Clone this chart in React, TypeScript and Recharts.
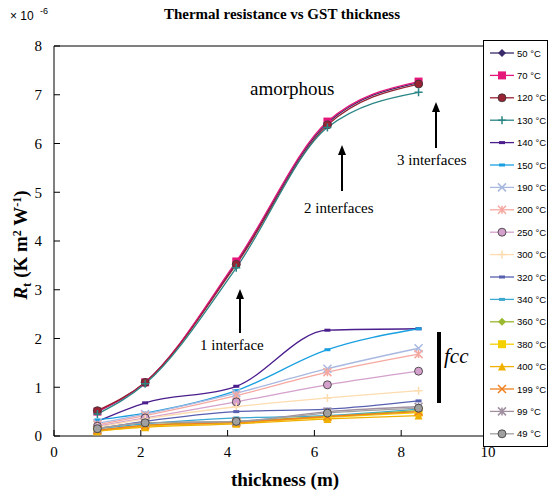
import { LineChart, Line, XAxis, YAxis } from "recharts";

const thickness = [1, 2.1, 4.2, 6.3, 8.4];
const s50 = [0.5, 1.1, 3.55, 6.42, 7.25];
const s70 = [0.5, 1.1, 3.58, 6.45, 7.27];
const s120 = [0.52, 1.1, 3.52, 6.38, 7.22];
const s130 = [0.45, 1.07, 3.45, 6.33, 7.05];
const s140 = [0.3, 0.68, 1.02, 2.17, 2.2];
const s150 = [0.33, 0.47, 0.93, 1.77, 2.2];
const s190 = [0.26, 0.45, 0.88, 1.38, 1.8];
const s200 = [0.23, 0.42, 0.83, 1.31, 1.68];
const s250 = [0.2, 0.37, 0.7, 1.05, 1.33];
const s300 = [0.18, 0.35, 0.6, 0.78, 0.93];
const s320 = [0.15, 0.3, 0.5, 0.55, 0.72];
const s340 = [0.15, 0.25, 0.37, 0.42, 0.55];
const s360 = [0.12, 0.22, 0.3, 0.4, 0.52];
const s380 = [0.1, 0.2, 0.27, 0.38, 0.48];
const s400 = [0.1, 0.18, 0.25, 0.35, 0.42];
const s199 = [0.12, 0.22, 0.28, 0.4, 0.5];
const s99 = [0.15, 0.27, 0.3, 0.5, 0.6];
const s49 = [0.15, 0.27, 0.3, 0.47, 0.57];

const series = [
  { key: "50", vals: s50, color: "#3b2a6b", mark: "diamond" },
  { key: "70", vals: s70, color: "#e5177b", mark: "square" },
  { key: "120", vals: s120, color: "#992233", mark: "circle" },
  { key: "130", vals: s130, color: "#2a8585", mark: "plus" },
  { key: "140", vals: s140, color: "#4b1e8e", mark: "dash" },
  { key: "150", vals: s150, color: "#1aa0e0", mark: "dash" },
  { key: "190", vals: s190, color: "#a8b8e0", mark: "x" },
  { key: "200", vals: s200, color: "#f5a8a0", mark: "star" },
  { key: "250", vals: s250, color: "#d4a0cc", mark: "circle" },
  { key: "300", vals: s300, color: "#fddcb0", mark: "plus" },
  { key: "320", vals: s320, color: "#5860b0", mark: "dash" },
  { key: "340", vals: s340, color: "#3aa8d0", mark: "dash" },
  { key: "360", vals: s360, color: "#9ab830", mark: "diamond" },
  { key: "380", vals: s380, color: "#f5d000", mark: "square" },
  { key: "400", vals: s400, color: "#f0b000", mark: "triangle" },
  { key: "199", vals: s199, color: "#f08020", mark: "x" },
  { key: "99", vals: s99, color: "#a090a0", mark: "star" },
  { key: "49", vals: s49, color: "#a0a0a0", mark: "circle" },
];

const data = thickness.map((t, i) => {
  const row: Record<string, number> = { t };
  series.forEach((s) => (row[s.key] = s.vals[i]));
  return row;
});

const Mark = ({ cx, cy, mark, color }: any) => {
  const r = 4;
  switch (mark) {
    case "diamond":
      return <polygon points={`${cx},${cy - r} ${cx + r},${cy} ${cx},${cy + r} ${cx - r},${cy}`} fill={color} />;
    case "square":
      return <rect x={cx - r} y={cy - r} width={2 * r} height={2 * r} fill={color} />;
    case "circle":
      return <circle cx={cx} cy={cy} r={r} fill={color} stroke="#333" strokeWidth={0.8} />;
    case "plus":
      return <path d={`M${cx - r},${cy}H${cx + r}M${cx},${cy - r}V${cy + r}`} stroke={color} strokeWidth={1.5} />;
    case "dash":
      return <rect x={cx - 3} y={cy - 1.5} width={6} height={3} fill={color} />;
    case "x":
      return <path d={`M${cx - r},${cy - r}L${cx + r},${cy + r}M${cx + r},${cy - r}L${cx - r},${cy + r}`} stroke={color} strokeWidth={1.5} />;
    case "star":
      return <path d={`M${cx - r},${cy - r}L${cx + r},${cy + r}M${cx + r},${cy - r}L${cx - r},${cy + r}M${cx},${cy - r}V${cy + r}`} stroke={color} strokeWidth={1.5} />;
    case "triangle":
      return <polygon points={`${cx},${cy - r} ${cx + r},${cy + r} ${cx - r},${cy + r}`} fill={color} />;
  }
  return null;
};

const serif = "'Liberation Serif', 'DejaVu Serif', serif";
const sans = "'Liberation Sans', Arial, sans-serif";

const Arrow = ({ x, y1, y2 }: { x: number; y1: number; y2: number }) => (
  <g>
    <line x1={x} y1={y1} x2={x} y2={y2 + 8} stroke="#000" strokeWidth={2} />
    <polygon points={`${x},${y2} ${x - 4},${y2 + 10} ${x + 4},${y2 + 10}`} fill="#000" />
  </g>
);

export default function App() {
  return (
    <div style={{ position: "absolute", left: 0, top: 0, width: 549, height: 495, background: "#fff" }}>
      <LineChart width={549} height={495} data={data} margin={{ top: 46, right: 61, bottom: 29, left: 0 }}>
        <XAxis
          dataKey="t"
          type="number"
          domain={[0, 10]}
          ticks={[0, 2, 4, 6, 8, 10]}
          height={30}
          stroke="#000"
          tickSize={-6}
          tickMargin={16}
          tick={{ fontFamily: serif, fontSize: 15, fill: "#000" }}
        />
        <YAxis
          type="number"
          domain={[0, 8]}
          ticks={[0, 1, 2, 3, 4, 5, 6, 7, 8]}
          width={54}
          stroke="#000"
          tickSize={-6}
          tickMargin={18}
          tick={{ fontFamily: serif, fontSize: 15, fill: "#000" }}
        />
        {series.map((s) => (
          <Line
            key={s.key}
            dataKey={s.key}
            type="monotone"
            stroke={s.color}
            strokeWidth={1.3}
            isAnimationActive={false}
            dot={(p: any) => <Mark key={`${s.key}-${p.index}`} cx={p.cx} cy={p.cy} mark={s.mark} color={s.color} />}
          />
        ))}
      </LineChart>
      <svg width={549} height={495} style={{ position: "absolute", left: 0, top: 0, pointerEvents: "none" }}>
        <line x1={54} y1={46} x2={488} y2={46} stroke="#000" />
        <line x1={488} y1={46} x2={488} y2={436} stroke="#000" />
        <text x={282} y={19} textAnchor="middle" fontFamily={serif} fontWeight="bold" fontSize={15}>Thermal resistance vs GST thickness</text>
        <text x={10} y={20} fontFamily={sans} fontSize={12}>× 10</text>
        <text x={40} y={14} fontFamily={sans} fontSize={9}>-6</text>
        <text x={250} y={95} fontFamily={serif} fontSize={19}>amorphous</text>
        <text x={200} y={350} fontFamily={serif} fontSize={15}>1 interface</text>
        <text x={304} y={213} fontFamily={serif} fontSize={15}>2 interfaces</text>
        <text x={397} y={165} fontFamily={serif} fontSize={15}>3 interfaces</text>
        <text x={444} y={363} fontFamily={serif} fontStyle="italic" fontSize={21}>fcc</text>
        <line x1={439} y1={332} x2={439} y2={403} stroke="#000" strokeWidth={4} />
        <Arrow x={240} y1={333} y2={289} />
        <Arrow x={342} y1={191} y2={145} />
        <Arrow x={436} y1={148} y2={102} />
        <text x={285} y={486} textAnchor="middle" fontFamily={serif} fontWeight="bold" fontSize={19}>thickness (m)</text>
        <text transform="translate(27,245) rotate(-90)" textAnchor="middle" fontFamily={serif} fontWeight="bold" fontSize={19}>
          <tspan fontStyle="italic">R</tspan><tspan fontSize={13} dy={4}>t</tspan><tspan dy={-4}> (K m</tspan><tspan fontSize={12} dy={-6}>2</tspan><tspan dy={6}> W</tspan><tspan fontSize={12} dy={-6}>-1</tspan><tspan dy={6}>)</tspan>
        </text>
        <rect x={483.5} y={40.5} width={64} height={406} fill="#fff" stroke="#000" />
        {series.map((s, i) => {
          const y = 53 + i * 22.4;
          return (
            <g key={s.key}>
              <line x1={490} y1={y} x2={514} y2={y} stroke={s.color} strokeWidth={1.3} />
              <Mark cx={502} cy={y} mark={s.mark} color={s.color} />
              <text x={517} y={y + 3.5} fontFamily={sans} fontSize={9.5}>{s.key} °C</text>
            </g>
          );
        })}
      </svg>
    </div>
  );
}
